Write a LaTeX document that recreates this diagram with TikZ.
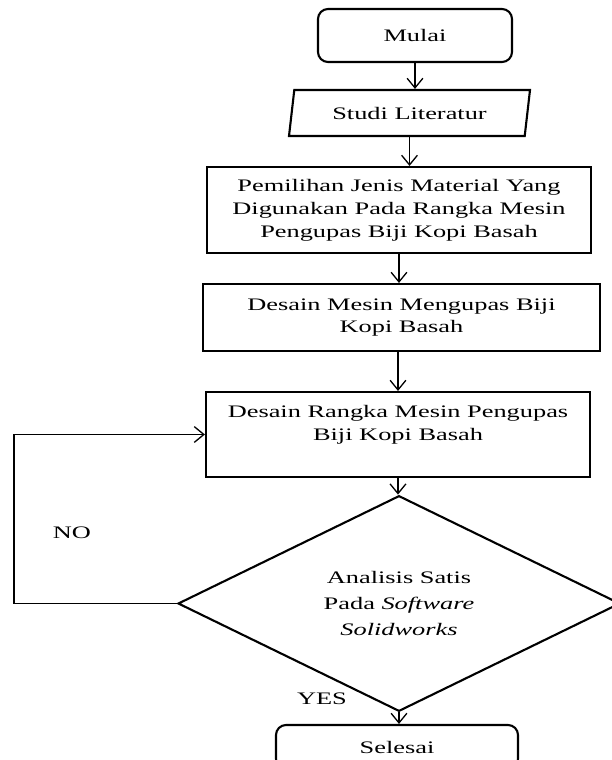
\documentclass[tikz,border=0pt]{standalone}
\usepackage{fontspec}
\setmainfont{Liberation Serif}[FakeStretch=1.5]
\usetikzlibrary{shapes.geometric,arrows.meta}

\begin{document}
\begin{tikzpicture}[scale=0.2]
\tikzstyle{every node}+=[inner sep=0pt, align=center, font=\fontsize{10pt}{13pt}\selectfont]
\tikzstyle{kotak}=[draw=black, line width=1.2pt, rectangle]
\tikzstyle{ujung}=[draw=black, line width=1.2pt, rectangle, rounded corners=0.2cm]
\tikzstyle{miring}=[draw=black, line width=1.2pt, trapezium, trapezium left angle=74, trapezium right angle=106, trapezium stretches=true]
\tikzstyle{keputusan}=[draw=black, line width=1.2pt, diamond, font=\fontsize{10pt}{15pt}\selectfont]
\tikzstyle{panah}=[black, line width=0.75pt, -{Straight Barb[length=5.5pt,width=9pt]}]
\useasboundingbox (0,0) rectangle (61.1,-76);
\node [ujung, minimum width=3.88cm, minimum height=1.06cm] (mulai) at (41.5,-3.55) {Mulai};
\node [miring, minimum width=4.86cm, minimum height=0.92cm] (studi) at (40.95,-11.3) {Studi Literatur};
\node [kotak, minimum width=7.68cm, minimum height=1.72cm] (bahan) at (39.9,-21) {Pemilihan Jenis Material Yang\\ Digunakan Pada Rangka Mesin\\ Pengupas Biji Kopi Basah};
\node [kotak, minimum width=7.94cm, minimum height=1.34cm] (mesin) at (40.15,-31.75) {Desain Mesin Mengupas Biji\\ Kopi Basah};
\node [kotak, minimum width=7.68cm, minimum height=1.7cm] (rangka) at (39.8,-43.45) {Desain Rangka Mesin Pengupas\\ Biji Kopi Basah\\ \mbox{}};
\node [keputusan, minimum width=8.84cm, minimum height=3.54cm] (analisis) at (39.9,-60.35) {Analisis Satis\\ Pada \textit{Software}\\ \textit{Solidworks}};
\node [ujung, minimum width=4.84cm, minimum height=0.88cm] (selesai) at (39.7,-74.7) {Selesai};
\coordinate (kiri) at (1.4,-60.35);
\node (no) at (7.2,-53.3) {NO};
\node (yes) at (32.2,-69.9) {YES};
\draw [panah] (mulai.south) -- (mulai.south |- studi.north);
\draw [panah] (studi.south) -- (studi.south |- bahan.north);
\draw [panah] (bahan.south) -- (bahan.south |- mesin.north);
\draw [panah] (rangka.north |- mesin.south) -- (rangka.north);
\draw [panah] (rangka.south) -- (rangka.south |- analisis.north);
\draw [panah] (analisis.south) -- (analisis.south |- selesai.north);
\draw [panah] (analisis.west) -- (kiri) |- (rangka.west);
\end{tikzpicture}
\end{document}
